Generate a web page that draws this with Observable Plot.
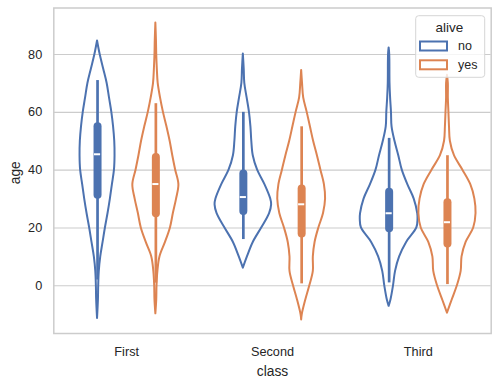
<!DOCTYPE html>
<html>
<head>
<meta charset="utf-8">
<script src="https://cdn.jsdelivr.net/npm/d3@7"></script>
<script src="https://cdn.jsdelivr.net/npm/@observablehq/plot@0.6"></script>
<style>
  html, body { margin: 0; padding: 0; background: #ffffff; }
  #chart { width: 499px; height: 385px; }
</style>
</head>
<body>
<div id="chart"></div>
<script>
// ---- data ----
const classes = ["First", "Second", "Third"];
const alive = ["no", "yes"];
const yTicks = [0, 20, 40, 60, 80];

// violin density profiles: [age, relative density] (1 = widest violin)
const firstNo = [[-11.3,0],[-5,0.03],[0,0.04],[5,0.06],[10,0.11],[15,0.19],[20,0.27],[25,0.36],[30,0.44],[35,0.51],[40,0.58],[45,0.60],[50,0.59],[55,0.55],[60,0.49],[65,0.41],[70,0.33],[75,0.21],[80,0.09],[84.7,0]];
const firstYes = [[-9.7,0],[-5,0.03],[0,0.04],[5,0.07],[10,0.14],[15,0.33],[20,0.50],[25,0.60],[30,0.71],[35,0.79],[40,0.68],[45,0.58],[50,0.49],[55,0.38],[60,0.26],[65,0.16],[70,0.08],[75,0.05],[80,0.03],[85,0.02],[90.9,0]];
const secondNo = [[6.1,0],[10,0.14],[15,0.34],[20,0.63],[25,0.90],[28,0.97],[30,0.94],[35,0.74],[40,0.49],[45,0.34],[50,0.29],[55,0.26],[60,0.21],[65,0.13],[70,0.05],[75,0.03],[80.2,0]];
const secondYes = [[-11.8,0],[-10,0.02],[-5,0.14],[0,0.28],[5,0.40],[10,0.40],[15,0.46],[20,0.59],[25,0.75],[30,0.82],[35,0.78],[40,0.66],[45,0.54],[50,0.41],[55,0.30],[60,0.19],[65,0.07],[70,0.03],[74.5,0]];
const thirdNo = [[-7.1,0],[-5,0.06],[0,0.15],[5,0.22],[10,0.36],[15,0.60],[20,0.95],[23,0.99],[25,0.98],[30,0.86],[35,0.64],[40,0.45],[45,0.33],[50,0.20],[55,0.10],[60,0.08],[65,0.05],[70,0.03],[80,0.02],[82.3,0]];
const thirdYes = [[-9.5,0],[-5,0.16],[0,0.34],[5,0.47],[10,0.50],[15,0.64],[20,0.90],[25,0.98],[30,0.94],[35,0.80],[40,0.53],[45,0.24],[50,0.10],[55,0.07],[60,0.05],[65,0.03],[70,0.03],[72.8,0]];

// box statistics, order: First-no, First-yes, Second-no, Second-yes, Third-no, Third-yes
const groupClass = ["First", "First", "Second", "Second", "Third", "Third"];
const groupAlive = ["no", "yes", "no", "yes", "no", "yes"];
const medians = [45.5, 35.2, 30.7, 28.2, 25.1, 22.0];
const q1s = [31.3, 24.9, 25.7, 17.9, 19.7, 14.5];
const q3s = [55.0, 44.4, 38.7, 33.5, 32.4, 28.7];
const whiskLo = [2.0, 0.92, 16.0, 0.67, 1.0, 0.42];
const whiskHi = [71.0, 63.0, 60.0, 55.0, 51.0, 45.0];

// ---- build tables ----
const profiles = [firstNo, firstYes, secondNo, secondYes, thirdNo, thirdYes];
const dodge = 0.2, halfMax = 0.2;
const center = (cls, hue) => classes.indexOf(cls) + (hue === "no" ? -dodge : dodge);

const violinRows = [];
profiles.forEach((pts, i) => {
  pts.forEach(([age, d]) => violinRows.push({
    cls: groupClass[i], hue: groupAlive[i], key: i, age, d,
    c: center(groupClass[i], groupAlive[i])
  }));
});
const statRows = groupClass.map((cls, i) => ({
  cls, hue: groupAlive[i], c: center(cls, groupAlive[i]),
  med: medians[i], q1: q1s[i], q3: q3s[i], lo: whiskLo[i], hi: whiskHi[i]
}));

const font = "'Liberation Sans', Arial, sans-serif";
const ink = "#262626";

const chart = Plot.plot({
  width: 499,
  height: 385,
  marginLeft: 53.3,
  marginRight: 8.3,
  marginTop: 7.5,
  marginBottom: 52,
  style: { fontFamily: font, background: "#ffffff", overflow: "visible" },
  x: { domain: [-0.5, 2.5], axis: null },
  y: { domain: [-16.5, 96.1], axis: null },
  color: { domain: alive, range: ["#4c72b0", "#dd8452"] },
  marks: [
    Plot.gridY(yTicks, { stroke: "#cccccc", strokeOpacity: 1, strokeWidth: 1.1 }),
    Plot.frame({ stroke: "#cccccc", strokeWidth: 1.5 }),
    Plot.axisY(yTicks, { tickSize: 0, tickPadding: 11.6, fontSize: 12.7, fill: ink, label: null }),
    Plot.axisX([0, 1, 2], { tickSize: 0, tickPadding: 13.6, fontSize: 12.7, fill: ink, label: null, tickFormat: i => classes[i] }),
    Plot.text(["age"], { frameAnchor: "left", textAnchor: "middle", lineAnchor: "middle", dx: -38.5, dy: 2, rotate: -90, text: d => d, fontSize: 13.8, fill: ink }),
    Plot.text(["class"], { frameAnchor: "bottom", textAnchor: "middle", lineAnchor: "middle", dy: 37.8, text: d => d, fontSize: 13.8, fill: ink }),
    Plot.areaX(violinRows, {
      y: "age",
      x1: d => d.c - d.d * halfMax,
      x2: d => d.c + d.d * halfMax,
      z: "key",
      stroke: "hue",
      fill: "none",
      strokeWidth: 2,
      curve: "catmull-rom"
    }),
    Plot.ruleX(statRows, { x: "c", y1: "lo", y2: "hi", stroke: "hue", strokeWidth: 2.7 }),
    Plot.ruleX(statRows, { x: "c", y1: "q1", y2: "q3", stroke: "hue", strokeWidth: 8, strokeLinecap: "round" }),
    Plot.ruleY(statRows, { y: "med", x1: d => d.c - 0.021, x2: d => d.c + 0.021, stroke: "#ffffff", strokeWidth: 2 })
  ]
});

document.getElementById("chart").appendChild(chart);

// ---- legend (inside the axes, upper right) ----
const svg = d3.select(chart);
const colors = ["#4c72b0", "#dd8452"];
const lg = svg.append("g").attr("font-family", font).attr("text-anchor", "start");
lg.append("rect")
  .attr("x", 415.7).attr("y", 15.7).attr("width", 69).attr("height", 61.6)
  .attr("rx", 3).attr("fill", "#ffffff").attr("fill-opacity", 0.8)
  .attr("stroke", "#d6d6d6").attr("stroke-width", 1);
lg.append("text").attr("x", 449.5).attr("y", 31.5).attr("text-anchor", "middle")
  .attr("font-size", 13.5).attr("fill", ink).text("alive");
alive.forEach((name, i) => {
  const y0 = 41.5 + i * 18.8;
  lg.append("rect").attr("x", 420).attr("y", y0).attr("width", 27).attr("height", 9)
    .attr("fill", "none").attr("stroke", colors[i]).attr("stroke-width", 2);
  lg.append("text").attr("x", 458).attr("y", y0 + 8.8).attr("text-anchor", "start")
    .attr("font-size", 12.5).attr("fill", ink).text(name);
});
</script>
</body>
</html>
